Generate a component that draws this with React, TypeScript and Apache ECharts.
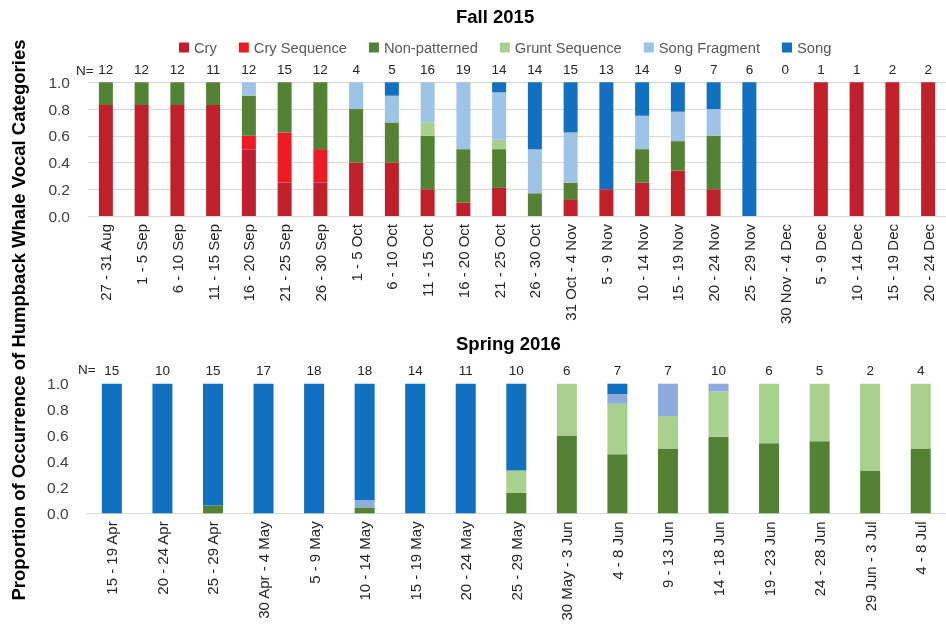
import React, { useEffect, useRef } from "react";
import * as echarts from "echarts";

const fallCats = ["27 - 31 Aug", "1 - 5 Sep", "6 - 10 Sep", "11 - 15 Sep", "16 - 20 Sep", "21 - 25 Sep", "26 - 30 Sep", "1 - 5 Oct", "6 - 10 Oct", "11 - 15 Oct", "16 - 20 Oct", "21 - 25 Oct", "26 - 30 Oct", "31 Oct - 4 Nov", "5 - 9 Nov", "10 - 14 Nov", "15 - 19 Nov", "20 - 24 Nov", "25 - 29 Nov", "30 Nov - 4 Dec", "5 - 9 Dec", "10 - 14 Dec", "15 - 19 Dec", "20 - 24 Dec"];
const fallN = ["12", "12", "12", "11", "12", "15", "12", "4", "5", "16", "19", "14", "14", "15", "13", "14", "9", "7", "6", "0", "1", "1", "2", "2"];
const fallCry = [0.83, 0.83, 0.83, 0.83, 0.5, 0.25, 0.25, 0.4, 0.4, 0.2, 0.1, 0.21, 0, 0.12, 0.2, 0.25, 0.34, 0.2, 0, 0, 1, 1, 1, 1];
const fallCrySeq = [0, 0, 0, 0, 0.1, 0.375, 0.25, 0, 0, 0, 0, 0, 0, 0, 0, 0, 0, 0, 0, 0, 0, 0, 0, 0];
const fallNonPat = [0.17, 0.17, 0.17, 0.17, 0.3, 0.375, 0.5, 0.4, 0.3, 0.4, 0.4, 0.29, 0.17, 0.13, 0, 0.25, 0.22, 0.4, 0, 0, 0, 0, 0, 0];
const fallGrunt = [0, 0, 0, 0, 0, 0, 0, 0, 0, 0.1, 0, 0.07, 0, 0, 0, 0, 0, 0, 0, 0, 0, 0, 0, 0];
const fallSongFrag = [0, 0, 0, 0, 0.1, 0, 0, 0.2, 0.2, 0.3, 0.5, 0.355, 0.33, 0.375, 0, 0.25, 0.22, 0.2, 0, 0, 0, 0, 0, 0];
const fallSong = [0, 0, 0, 0, 0, 0, 0, 0, 0.1, 0, 0, 0.075, 0.5, 0.375, 0.8, 0.25, 0.22, 0.2, 1, 0, 0, 0, 0, 0];

const springCats = ["15 - 19 Apr", "20 - 24 Apr", "25 - 29 Apr", "30 Apr - 4 May", "5 - 9 May", "10 - 14 May", "15 - 19 May", "20 - 24 May", "25 - 29 May", "30 May - 3 Jun", "4 - 8 Jun", "9 - 13 Jun", "14 - 18 Jun", "19 - 23 Jun", "24 - 28 Jun", "29 Jun - 3 Jul", "4 - 8 Jul"];
const springN = ["15", "10", "15", "17", "18", "18", "14", "11", "10", "6", "7", "7", "10", "6", "5", "2", "4"];
const springNonPat = [0, 0, 0.06, 0, 0, 0.045, 0, 0, 0.16, 0.6, 0.455, 0.5, 0.59, 0.54, 0.555, 0.33, 0.5];
const springGrunt = [0, 0, 0, 0, 0, 0, 0, 0, 0.17, 0.4, 0.39, 0.25, 0.35, 0.46, 0.445, 0.67, 0.5];
const springSongFrag = [0, 0, 0, 0, 0, 0.055, 0, 0, 0, 0, 0.075, 0.25, 0.06, 0, 0, 0, 0];
const springSong = [1, 1, 0.94, 1, 1, 0.9, 1, 1, 0.67, 0, 0.08, 0, 0, 0, 0, 0, 0];

const legendNames = ["Cry", "Cry Sequence", "Non-patterned", "Grunt Sequence", "Song Fragment", "Song"];

const FONT = "Liberation Sans";
const C = {
  cry: "#C0202A",
  crySeq: "#ED1C24",
  nonPat: "#548235",
  grunt: "#A9D18E",
  songFrag: "#9DC3E6",
  songFrag2: "#8FAADC",
  song: "#1170BF",
};

export default function App() {
  const ref = useRef<HTMLDivElement>(null);
  useEffect(() => {
    if (!ref.current) return;
    const chart = echarts.init(ref.current, undefined, { renderer: "svg" });
    const yAxisBase = (gridIndex: number, split: boolean) => ({
      type: "value",
      gridIndex,
      min: 0,
      max: 1,
      interval: 0.2,
      axisLine: { show: false },
      axisTick: { show: false },
      splitLine: { show: split, lineStyle: { color: "#D9D9D9", width: 1 } },
      axisLabel: {
        margin: 18,
        fontSize: 15.5,
        fontFamily: FONT,
        color: "#404040",
        formatter: (v: number) => v.toFixed(1),
      },
    });
    const catAxis = (gridIndex: number, data: string[]) => ({
      type: "category",
      gridIndex,
      data,
      position: "bottom",
      axisLine: { show: true, lineStyle: { color: "#D9D9D9", width: 1 } },
      axisTick: { show: false },
      axisLabel: {
        rotate: 90,
        interval: 0,
        margin: 8,
        fontSize: 15,
        fontFamily: FONT,
        color: "#262626",
      },
    });
    const nAxis = (gridIndex: number, data: string[]) => ({
      type: "category",
      gridIndex,
      data,
      position: "top",
      axisLine: { show: false },
      axisTick: { show: false },
      axisLabel: {
        interval: 0,
        margin: 6,
        fontSize: 13.5,
        fontFamily: FONT,
        color: "#262626",
      },
    });
    const bar = (name: string, data: number[], color: string, idx: number, stack: string, width: number) => ({
      name,
      type: "bar",
      stack,
      data,
      xAxisIndex: idx,
      yAxisIndex: idx,
      barWidth: width,
      itemStyle: { color },
    });
    chart.setOption({
      animation: false,
      textStyle: { fontFamily: FONT },
      title: [
        { text: "Fall 2015", left: 456, top: 7, padding: 0, textStyle: { fontSize: 18.5, fontWeight: "bold", color: "#000", fontFamily: FONT } },
        { text: "Spring 2016", left: 456, top: 334, padding: 0, textStyle: { fontSize: 18.5, fontWeight: "bold", color: "#000", fontFamily: FONT } },
      ],
      legend: {
        left: 179,
        top: 40,
        padding: 0,
        itemWidth: 10,
        itemHeight: 10,
        itemGap: 22,
        icon: "rect",
        textStyle: { fontSize: 14.7, color: "#595959", fontFamily: FONT },
        data: legendNames,
      },
      grid: [
        { left: 88, right: -11, top: 82.3, height: 133.7 },
        { left: 86.6, right: -19.5, top: 383.7, height: 129.6 },
      ],
      xAxis: [catAxis(0, fallCats), catAxis(1, springCats), nAxis(0, fallN), nAxis(1, springN)],
      yAxis: [yAxisBase(0, true), yAxisBase(1, false)],
      series: [
        bar("Cry", fallCry, C.cry, 0, "fall", 14),
        bar("Cry Sequence", fallCrySeq, C.crySeq, 0, "fall", 14),
        bar("Non-patterned", fallNonPat, C.nonPat, 0, "fall", 14),
        bar("Grunt Sequence", fallGrunt, C.grunt, 0, "fall", 14),
        bar("Song Fragment", fallSongFrag, C.songFrag, 0, "fall", 14),
        bar("Song", fallSong, C.song, 0, "fall", 14),
        bar("Non-patterned", springNonPat, C.nonPat, 1, "spring", 20),
        bar("Grunt Sequence", springGrunt, C.grunt, 1, "spring", 20),
        bar("Song Fragment", springSongFrag, C.songFrag2, 1, "spring", 20),
        bar("Song", springSong, C.song, 1, "spring", 20),
      ],
      graphic: [
        { type: "text", left: 76, top: 63, style: { text: "N=", fontSize: 13.5, fontFamily: FONT, fill: "#262626" } },
        { type: "text", left: 78, top: 362, style: { text: "N=", fontSize: 13.5, fontFamily: FONT, fill: "#262626" } },
        {
          type: "text",
          x: 18,
          y: 320,
          rotation: Math.PI / 2,
          style: {
            text: "Proportion of Occurrence of Humpback Whale Vocal Categories",
            fontSize: 18.5,
            fontWeight: "bold",
            fontFamily: FONT,
            fill: "#000",
            align: "center",
            verticalAlign: "middle",
          },
        },
      ],
    });
    return () => chart.dispose();
  }, []);
  return <div ref={ref} style={{ position: "fixed", left: 0, top: 0, width: 946, height: 627 }} />;
}
